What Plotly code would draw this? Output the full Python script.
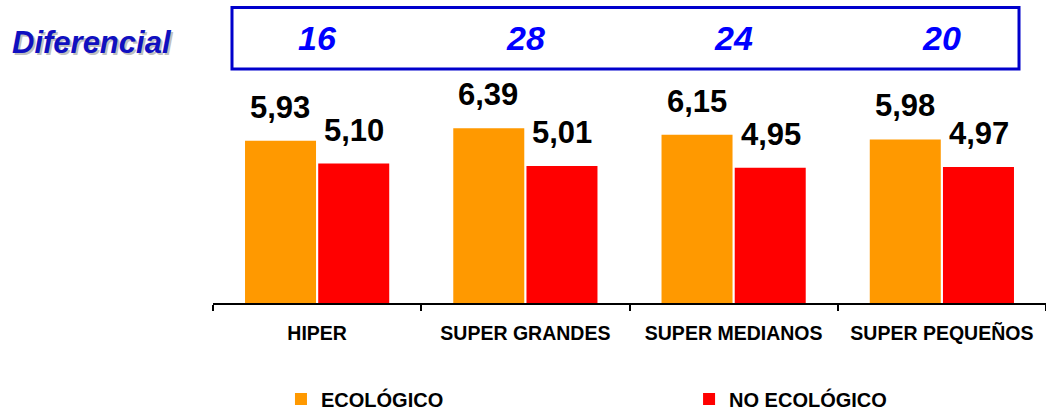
import plotly.graph_objects as go

# Precio medio por tipo de establecimiento
categorias = ["HIPER", "SUPER GRANDES", "SUPER MEDIANOS", "SUPER PEQUEÑOS"]
ecologico = [5.93, 6.39, 6.15, 5.98]
no_ecologico = [5.10, 5.01, 4.95, 4.97]
series = ["ECOLÓGICO", "NO ECOLÓGICO"]

# Diferencial porcentual ecológico frente a no ecológico
diferencial = [round((e - n) / n * 100) for e, n in zip(ecologico, no_ecologico)]

FONT = "Arial, Liberation Sans, sans-serif"
NARANJA = "#FF9900"
ROJO = "#FF0000"
AZUL_MARCO = "#0000CC"
AZUL_TEXTO = "#0000FF"

fig = go.Figure()
fig.add_trace(go.Bar(x=categorias, y=ecologico, name=series[0], legend="legend",
                     showlegend=True,
                     marker=dict(color=NARANJA, line=dict(width=0))))
fig.add_trace(go.Bar(x=categorias, y=no_ecologico, name=series[1], legend="legend2",
                     showlegend=True,
                     marker=dict(color=ROJO, line=dict(width=0))))

annotations = []
# Etiquetas de valor encima de cada barra
for cat, e, n in zip(categorias, ecologico, no_ecologico):
    for val, shift in ((e, -37), (n, 37)):
        annotations.append(dict(
            x=cat, y=val, xref="x", yref="y", xshift=shift, yshift=14,
            yanchor="bottom", showarrow=False,
            text=f"{val:.2f}".replace(".", ","),
            font=dict(family=FONT, size=31, color="black", weight="bold"),
        ))

# Cifras del diferencial dentro del recuadro superior
for cat, d in zip(categorias, diferencial):
    annotations.append(dict(
        x=cat, y=1.137, xref="x", yref="paper", yanchor="middle",
        showarrow=False, text=str(d),
        font=dict(family=FONT, size=34, color=AZUL_TEXTO,
                  weight="bold", style="italic"),
    ))

# Rótulo "Diferencial" con sombra
for color, dx, dy in (("#C0C0C0", 2, -2), ("#1010C0", 0, 0)):
    annotations.append(dict(
        x=-0.2437, y=1.118, xref="paper", yref="paper",
        xanchor="left", yanchor="middle", xshift=dx, yshift=dy,
        showarrow=False, text="Diferencial",
        font=dict(family=FONT, size=31, color=color,
                  weight="bold", style="italic"),
    ))

leyenda = dict(orientation="h", y=-0.412, xanchor="left", yanchor="middle",
               bgcolor="rgba(0,0,0,0)", visible=True,
               font=dict(family=FONT, size=20, color="black", weight="bold"))

fig.update_layout(
    width=1046, height=411,
    margin=dict(l=213, r=0, t=70, b=108, autoexpand=False),
    paper_bgcolor="white", plot_bgcolor="white",
    showlegend=True,
    barmode="group", bargap=0.297, bargroupgap=0.03,
    font=dict(family=FONT, color="black"),
    annotations=annotations,
    shapes=[dict(type="rect", xref="paper", yref="paper",
                 x0=0.0228, x1=0.9676, y0=1.004, y1=1.268,
                 line=dict(color=AZUL_MARCO, width=3))],
    legend=dict(leyenda, x=0.0816),
    legend2=dict(leyenda, x=0.5715),
    xaxis=dict(
        showline=True, linecolor="black", linewidth=1.5,
        ticks="outside", tickson="boundaries", ticklen=6,
        tickcolor="black", tickwidth=1.5,
        ticklabelstandoff=12,
        tickfont=dict(family=FONT, size=19.5, color="black", weight="bold"),
        showgrid=False, fixedrange=True,
    ),
    yaxis=dict(range=[0, 8.52], visible=False, showgrid=False,
               zeroline=False, fixedrange=True),
)

fig.write_html("out.html")
